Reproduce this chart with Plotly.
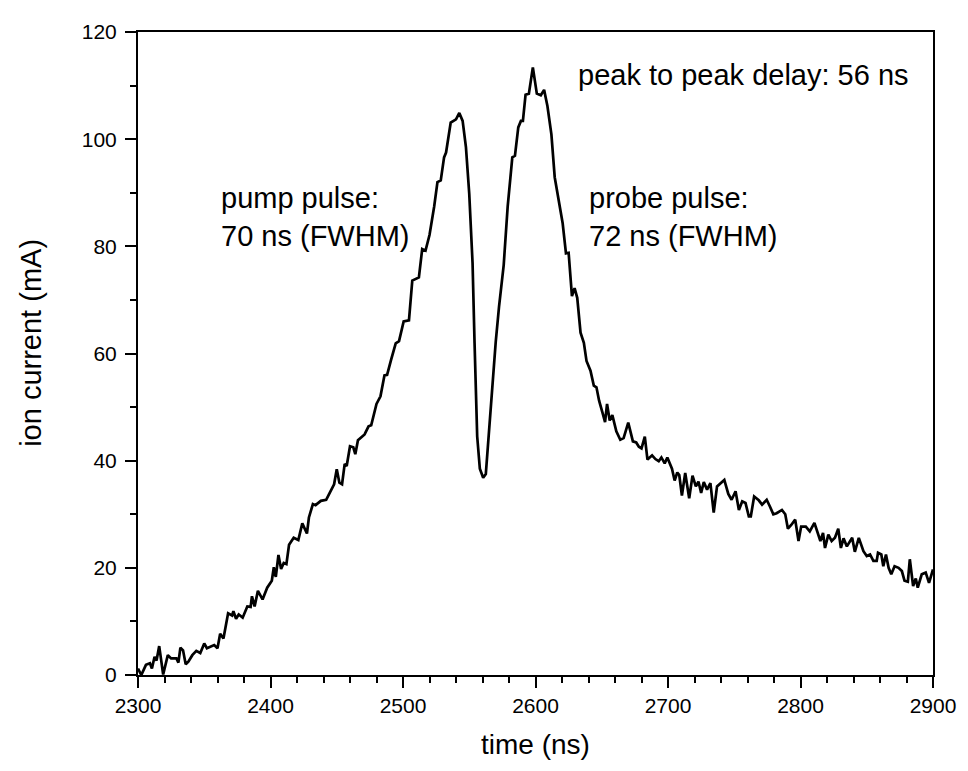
import plotly.graph_objects as go

time_ns = [
    2300, 2302.5, 2306, 2309, 2310.5, 2312.5, 2314, 2316, 2319, 2322.5, 2325, 2329, 2330.5, 2332, 2334,
    2336, 2338, 2341, 2344, 2347, 2350, 2352, 2357.5, 2360, 2362, 2364.5, 2368, 2371, 2372, 2374, 2376,
    2379, 2382.5, 2385, 2386, 2388, 2390.5, 2394, 2397.5, 2401, 2402.5, 2404, 2406, 2408, 2410, 2412,
    2414, 2417.5, 2421, 2424, 2427.5, 2429, 2432, 2434, 2438, 2442, 2444.5, 2448, 2450, 2452, 2454,
    2456, 2457.5, 2460, 2462.5, 2464, 2466, 2471, 2474, 2476, 2480, 2483, 2486, 2488, 2491, 2494.5,
    2497, 2500.5, 2504.5, 2507, 2512, 2514.5, 2517, 2520, 2523.5, 2526, 2528.5, 2531, 2532.5, 2536,
    2540, 2542.5, 2545, 2547.5, 2550, 2552.5, 2554, 2556, 2558, 2560.5, 2562.5, 2564.5, 2567.5, 2570,
    2572.5, 2576, 2579, 2582.5, 2584.5, 2587, 2589, 2590.5, 2592.5, 2595, 2598, 2601, 2604, 2606.5,
    2609, 2612, 2614.5, 2617.5, 2620.5, 2623, 2625, 2627.5, 2629.5, 2631.5, 2634, 2636.5, 2638.5,
    2641.5, 2644, 2646, 2648, 2650.5, 2652.5, 2654, 2656, 2658, 2661, 2664, 2666.5, 2670, 2673.5,
    2676, 2678, 2680, 2682.5, 2684.5, 2688, 2690.5, 2693, 2695, 2697.5, 2699.5, 2701.5, 2703, 2705,
    2707, 2708.5, 2710.5, 2713, 2716, 2718.5, 2721, 2723, 2725, 2727, 2729.5, 2732, 2734.5, 2737,
    2740, 2742.5, 2745.5, 2748, 2751, 2753.5, 2756, 2758.5, 2761, 2762.5, 2765, 2768.5, 2771, 2774.5,
    2777, 2779.5, 2782, 2786, 2788.5, 2790.5, 2793, 2796, 2798.5, 2800.5, 2804, 2807, 2810.5, 2813,
    2815, 2817, 2818.5, 2821, 2823.5, 2826, 2828.5, 2830.5, 2832.5, 2835, 2837.5, 2839, 2841, 2844,
    2847.5, 2850, 2852.5, 2855, 2857.5, 2858.5, 2861, 2862.5, 2864.5, 2866.5, 2868.5, 2871, 2874,
    2876.5, 2878.5, 2881, 2882.5, 2885, 2887, 2888.5, 2891.5, 2894.5, 2897, 2900,
]

ion_current_mA = [
    1.2, 0.0, 1.9, 2.2, 1.2, 3.4, 2.7, 5.4, 0.1, 3.7, 3.1, 3.1, 2.3, 5.1, 4.6,
    2.0, 2.5, 3.7, 4.5, 4.1, 5.9, 5.0, 5.6, 5.0, 7.7, 6.8, 11.5, 11.1, 11.9, 10.5, 11.3,
    10.7, 12.8, 12.7, 14.7, 12.8, 15.7, 14.1, 16.3, 17.6, 20.1, 18.3, 22.4, 19.8, 20.9, 20.7,
    24.3, 25.6, 25.2, 28.3, 26.4, 29.4, 31.9, 31.7, 32.5, 32.7, 33.9, 35.6, 38.4, 35.9, 35.6,
    39.4, 39.0, 42.7, 42.5, 41.2, 43.8, 44.9, 46.4, 46.6, 50.6, 52.0, 55.9, 56.0, 58.8, 61.9,
    62.3, 66.0, 66.2, 73.6, 74.2, 79.5, 79.2, 82.1, 87.4, 92.0, 92.3, 96.6, 97.5, 103.1,
    103.7, 104.9, 103.4, 98.5, 89.8, 76.9, 62.0, 44.5, 38.5, 36.8, 37.5, 44.0, 54.5, 62.2,
    68.8, 76.5, 87.4, 96.6, 96.9, 102.2, 103.4, 103.4, 108.3, 108.5, 113.4, 108.5, 108.2, 109.2,
    106.2, 100.9, 92.9, 88.6, 84.3, 78.7, 78.8, 70.7, 72.2, 70.4, 63.9, 62.0, 58.6,
    56.8, 54.0, 53.7, 51.2, 49.0, 47.2, 50.6, 47.5, 48.5, 45.5, 43.9, 44.2, 47.1, 43.6,
    43.4, 42.6, 42.3, 44.5, 40.2, 41.0, 40.3, 39.9, 40.6, 39.5, 40.6, 39.2, 38.5, 36.3,
    37.8, 37.3, 33.5, 37.7, 33.0, 37.2, 35.2, 36.1, 34.0, 36.0, 34.6, 35.8, 30.3, 35.2,
    35.8, 36.4, 33.8, 32.7, 34.3, 30.8, 32.4, 32.1, 29.6, 29.6, 33.3, 32.6, 31.8, 32.7,
    31.4, 30.0, 30.2, 30.8, 30.0, 27.3, 28.0, 29.0, 25.0, 27.7, 27.7, 26.8, 28.4, 26.5,
    25.0, 26.5, 23.7, 26.2, 25.0, 25.6, 27.3, 23.7, 25.5, 24.0, 25.0, 25.6, 23.0, 25.6,
    23.1, 22.2, 22.5, 21.3, 21.3, 22.8, 22.5, 20.3, 22.5, 20.0, 18.8, 20.3, 20.0,
    19.4, 17.6, 17.4, 21.6, 16.6, 18.0, 16.3, 18.8, 19.1, 17.2, 19.7,
]

x_ticks = [2300, 2400, 2500, 2600, 2700, 2800, 2900]
y_ticks = [0, 20, 40, 60, 80, 100, 120]

FONT = "Liberation Sans, Arial, sans-serif"

fig = go.Figure()
fig.add_trace(go.Scatter(
    x=time_ns, y=ion_current_mA, mode="lines",
    line=dict(color="black", width=2.7), showlegend=False, hoverinfo="skip",
))

axis_common = dict(
    showgrid=False, zeroline=False, showline=True, linecolor="black", linewidth=2,
    mirror=True, ticks="outside", tickcolor="black", tickwidth=2, ticklen=11,
    tickfont=dict(family=FONT, size=21, color="black"),
)

fig.update_xaxes(
    range=[2300, 2900], tickvals=x_ticks, ticktext=[str(v) for v in x_ticks],
    minor=dict(dtick=20, ticks="outside", ticklen=6, tickwidth=2, tickcolor="black", showgrid=False),
    title=dict(text="time (ns)", font=dict(family=FONT, size=28, color="black"), standoff=18),
    **axis_common,
)
fig.update_yaxes(
    range=[0, 120], tickvals=y_ticks, ticktext=[str(v) for v in y_ticks],
    minor=dict(dtick=10, ticks="outside", ticklen=6, tickwidth=2, tickcolor="black", showgrid=False),
    ticklabelstandoff=4,
    **axis_common,
)

# y-axis title (placed as rotated text, slightly above the plot centre as in the reference)
fig.add_annotation(x=-0.1355, y=0.517, xref="paper", yref="paper", xanchor="center", yanchor="middle",
                   text="ion current (mA)", textangle=-90, showarrow=False,
                   font=dict(family=FONT, size=29, color="black"))

ann_font = dict(family=FONT, size=29, color="black")
fig.add_annotation(x=0.551, y=0.933, xref="paper", yref="paper", xanchor="left", yanchor="middle",
                   text="peak to peak delay: 56 ns", showarrow=False, font=ann_font, align="left")
fig.add_annotation(x=0.102, y=0.713, xref="paper", yref="paper", xanchor="left", yanchor="middle",
                   text="pump pulse:<br>70 ns (FWHM)", showarrow=False, font=ann_font, align="left")
fig.add_annotation(x=0.565, y=0.713, xref="paper", yref="paper", xanchor="left", yanchor="middle",
                   text="probe pulse:<br>72 ns (FWHM)", showarrow=False, font=ann_font, align="left")

# page body has an 8px default margin, so the figure is shifted by 8px
fig.update_layout(
    width=960, height=763,
    margin=dict(l=130, r=33, t=19, b=96),
    plot_bgcolor="white", paper_bgcolor="white",
    font=dict(family=FONT, color="black"),
)

fig.write_html("out.html")
